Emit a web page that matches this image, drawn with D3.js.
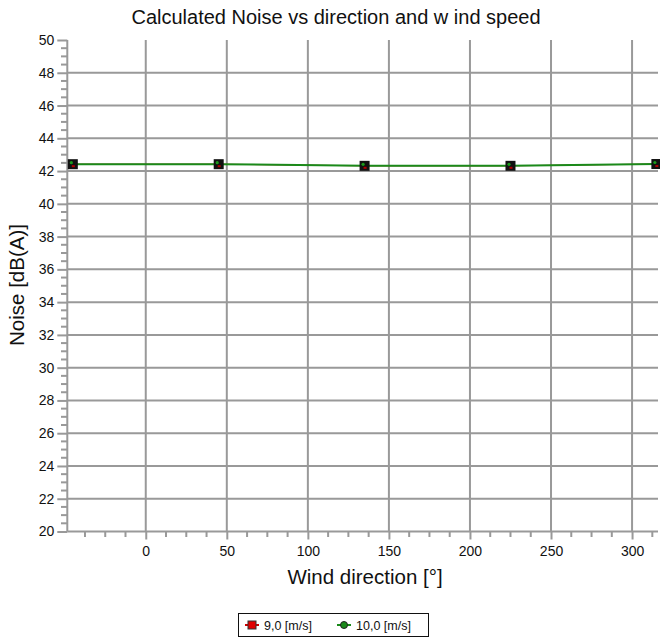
<!DOCTYPE html>
<html><head><meta charset="utf-8">
<script src="https://cdn.jsdelivr.net/npm/d3@7"></script>
<style>body{margin:0;background:#fff;}svg{display:block;font-family:"Liberation Sans",Arial,sans-serif;}</style>
</head><body>
<svg id="c" width="660" height="639"></svg>
<script>
const directions = [-45, 45, 135, 225, 315];
const noise9 = [42.42, 42.42, 42.32, 42.32, 42.43];
const noise10 = [42.42, 42.42, 42.32, 42.32, 42.43];
const seriesNames = ["9,0 [m/s]", "10,0 [m/s]"];
const xTicks = [0, 50, 100, 150, 200, 250, 300];
const yTicks = [20,22,24,26,28,30,32,34,36,38,40,42,44,46,48,50];

const svg = d3.select("#c");
const x = d3.scaleLinear().domain([-48.4, 316]).range([67.3, 658]);
const y = d3.scaleLinear().domain([20, 50]).range([531.5, 40]);
const grid = "#999";

// gridlines
svg.append("g").selectAll("line").data(xTicks).join("line")
  .attr("x1", d => x(d)).attr("x2", d => x(d)).attr("y1", y(50)).attr("y2", y(20))
  .attr("stroke", grid).attr("stroke-width", 2);
svg.append("g").selectAll("line").data(yTicks.filter(v => v > 20 && v < 50)).join("line")
  .attr("x1", x.range()[0]).attr("x2", x.range()[1]).attr("y1", d => y(d)).attr("y2", d => y(d))
  .attr("stroke", grid).attr("stroke-width", 2);

// minor ticks
const yMinor = d3.range(20, 50.01, 0.5).filter(v => v % 2 !== 0);
svg.append("g").selectAll("line").data(yMinor).join("line")
  .attr("x1", 61).attr("x2", 67).attr("y1", d => y(d)).attr("y2", d => y(d))
  .attr("stroke", grid).attr("stroke-width", 2);
const xMinor = d3.range(-37.5, 316, 12.5).filter(v => v % 50 !== 0);
svg.append("g").selectAll("line").data(xMinor).join("line")
  .attr("x1", d => x(d)).attr("x2", d => x(d)).attr("y1", 531.5).attr("y2", 537)
  .attr("stroke", grid).attr("stroke-width", 2);

// axes
const yAxis = d3.axisLeft(y).tickValues(yTicks).tickSize(10).tickPadding(3).tickFormat(d3.format("d"));
const gy = svg.append("g").attr("transform", `translate(${x.range()[0]},0)`).call(yAxis);
const xAxis = d3.axisBottom(x).tickValues(xTicks).tickSize(8).tickPadding(7).tickFormat(d3.format("d"));
const gx = svg.append("g").attr("transform", `translate(0,${y(20)})`).call(xAxis);
[gx, gy].forEach(g => {
  g.select(".domain").attr("stroke", grid).attr("stroke-width", 2);
  g.selectAll(".tick line").attr("stroke", grid).attr("stroke-width", 2);
  g.selectAll("text").attr("fill", "#111").style("font-size", "14px").style("font-family", "Liberation Sans, Arial, sans-serif");
});
gx.select(".domain").attr("d", `M${x.range()[0]},0H${x.range()[1]}`);
gy.select(".domain").attr("d", `M0,${y(20)}V${y(50)}`);

// lines
const line = d3.line().x((d, i) => x(directions[i])).y(d => y(d));
svg.append("path").datum(noise9).attr("d", line).attr("fill", "none").attr("stroke", "#cc0000").attr("stroke-width", 1);
svg.append("path").datum(noise10).attr("d", line).attr("fill", "none").attr("stroke", "#1a8a1a").attr("stroke-width", 2);

// markers
const m = svg.append("g");
directions.forEach((dir, i) => {
  const cx = x(dir), cy9 = y(noise9[i]), cy10 = y(noise10[i]);
  m.append("rect").attr("x", cx - 5).attr("y", cy9 - 5).attr("width", 10).attr("height", 10).attr("fill", "#111");
  m.append("rect").attr("x", cx - 1).attr("y", cy9 + 1).attr("width", 3).attr("height", 2).attr("fill", "#b00000");
  m.append("circle").attr("cx", cx - 1.5).attr("cy", cy10 - 1.5).attr("r", 1.6).attr("fill", "#1a9a1a");
});

// title & labels
svg.append("text").attr("x", 336).attr("y", 24).attr("text-anchor", "middle")
  .style("font-size", "20px").attr("fill", "#111").text("Calculated Noise vs direction and w ind speed");
svg.append("text").attr("transform", "translate(24,285) rotate(-90)").attr("text-anchor", "middle")
  .style("font-size", "20.5px").attr("fill", "#111").text("Noise [dB(A)]");
svg.append("text").attr("x", 365).attr("y", 584).attr("text-anchor", "middle")
  .style("font-size", "20.5px").attr("fill", "#111").text("Wind direction [°]");

// legend
const lg = svg.append("g");
lg.append("rect").attr("x", 238.5).attr("y", 613.5).attr("width", 190).attr("height", 23)
  .attr("fill", "#fff").attr("stroke", "#111").attr("stroke-width", 1);
lg.append("line").attr("x1", 245).attr("x2", 259).attr("y1", 625).attr("y2", 625).attr("stroke", "#cc0000").attr("stroke-width", 2);
lg.append("rect").attr("x", 248).attr("y", 621).attr("width", 8).attr("height", 8).attr("fill", "#e00000").attr("stroke", "#333").attr("stroke-width", 1);
lg.append("text").attr("x", 264).attr("y", 629.5).style("font-size", "12.5px").attr("fill", "#111").text(seriesNames[0]);
lg.append("line").attr("x1", 337).attr("x2", 351).attr("y1", 625).attr("y2", 625).attr("stroke", "#1a8a1a").attr("stroke-width", 2);
lg.append("circle").attr("cx", 344).attr("cy", 625).attr("r", 3.5).attr("fill", "#1a8a1a").attr("stroke", "#222").attr("stroke-width", 1);
lg.append("text").attr("x", 356).attr("y", 629.5).style("font-size", "12.5px").attr("fill", "#111").text(seriesNames[1]);
</script>
</body></html>
